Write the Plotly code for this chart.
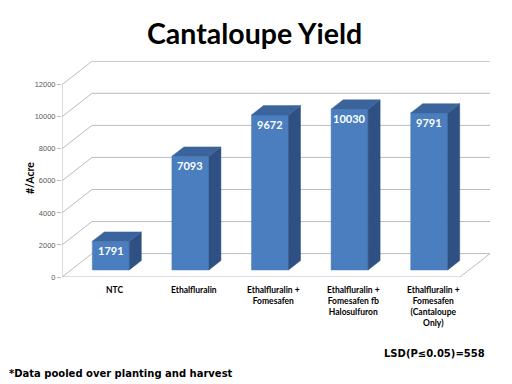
import plotly.graph_objects as go

categories = ["NTC", "Ethalfluralin", "Ethalfluralin +<br>Fomesafen",
              "Ethalfluralin +<br>Fomesafen fb<br>Halosulfuron",
              "Ethalfluralin +<br>Fomesafen<br>(Cantaloupe<br>Only)"]
yield_values = [1791, 7093, 9672, 10030, 9791]
y_ticks = [0, 2000, 4000, 6000, 8000, 10000, 12000]

title_text = "Cantaloupe Yield"
y_title = "#/Acre"
lsd_text = "LSD(P≤0.05)=558"
foot_text = "*Data pooled over planting and harvest"

# pseudo-3D geometry (in axis units)
DX = 0.377      # wall depth along x
DY = 1460       # wall depth along y
D0, D1 = 0.30, 0.70   # bar front / back depth fractions
HW = 0.2325     # half bar width
X_LEFT, X_RIGHT = -0.5, len(categories) - 0.5

FRONT = "#4a7ebe"
SIDE = "#2e5082"
TOP = "#3c649c"
GRID = "#bcbcbc"

W, H = 512, 384
ML, MR, MT, MB = 62, 20, 61, 107
PW, PH = W - ML - MR, H - MT - MB


def px_to_paper(px, py):
    return (px - ML) / PW, (H - MB - py) / PH


def poly(xs, ys, color):
    return go.Scatter(x=xs + [xs[0]], y=ys + [ys[0]], fill="toself", fillcolor=color,
                      mode="lines", line=dict(width=0.5, color=color),
                      hoverinfo="skip", showlegend=False)


fig = go.Figure()

# left-wall diagonals and back-wall gridlines
for v in y_ticks:
    fig.add_trace(go.Scatter(x=[X_LEFT, X_LEFT + DX, X_RIGHT + DX], y=[v, v + DY, v + DY],
                             mode="lines", line=dict(color=GRID, width=1),
                             hoverinfo="skip", showlegend=False))
# floor front and right edges
fig.add_trace(go.Scatter(x=[X_LEFT, X_RIGHT, X_RIGHT + DX], y=[0, 0, DY],
                         mode="lines", line=dict(color=GRID, width=1),
                         hoverinfo="skip", showlegend=False))
# front vertical axis line
fig.add_trace(go.Scatter(x=[X_LEFT, X_LEFT], y=[0, y_ticks[-1]],
                         mode="lines", line=dict(color=GRID, width=1),
                         hoverinfo="skip", showlegend=False))

# bars (front, side and top faces)
ddx = (D1 - D0) * DX
ddy = (D1 - D0) * DY
for i, v in enumerate(yield_values):
    xc = i + D0 * DX
    xl, xr = xc - HW, xc + HW
    yb, yt = D0 * DY, v + D0 * DY
    fig.add_trace(poly([xl, xr, xr, xl], [yb, yb, yt, yt], FRONT))
    fig.add_trace(poly([xr, xr, xr + ddx, xr + ddx], [yb, yt, yt + ddy, yb + ddy], SIDE))
    fig.add_trace(poly([xl, xr, xr + ddx, xl + ddx], [yt, yt, yt + ddy, yt + ddy], TOP))
    fig.add_annotation(x=xc, y=yt, text="<b>%d</b>" % v, showarrow=False,
                       yanchor="top", yshift=-1,
                       font=dict(family="Lato", size=11, color="white"))
    fig.add_annotation(x=xc + 0.05, y=0, yref="paper", text="<b>%s</b>" % categories[i],
                       showarrow=False, yanchor="top", yshift=-6, align="center",
                       font=dict(family="Lato", size=8.5, color="black"))

tx, ty = px_to_paper(254, 33)
fig.add_annotation(x=tx, y=ty, xref="paper", yref="paper", text="<b>%s</b>" % title_text,
                   showarrow=False, xanchor="center", yanchor="middle",
                   font=dict(family="Lato", size=28.5, color="black"))
lx, ly = px_to_paper(487, 353)
fig.add_annotation(x=lx, y=ly, xref="paper", yref="paper", text="<b>%s</b>" % lsd_text,
                   showarrow=False, xanchor="right", yanchor="middle",
                   font=dict(family="DejaVu Sans", size=10, color="black"))
fx, fy = px_to_paper(7, 373)
fig.add_annotation(x=fx, y=fy, xref="paper", yref="paper", text="<b>%s</b>" % foot_text,
                   showarrow=False, xanchor="left", yanchor="middle",
                   font=dict(family="DejaVu Sans", size=10, color="black"))
ax, ay = px_to_paper(30, 178)
fig.add_annotation(x=ax, y=ay, xref="paper", yref="paper", text="<b>%s</b>" % y_title,
                   textangle=-90, showarrow=False, xanchor="center", yanchor="middle",
                   font=dict(family="Lato", size=10.5, color="black"))

fig.update_layout(
    width=W, height=H,
    margin=dict(l=ML, r=MR, t=MT, b=MB),
    paper_bgcolor="white", plot_bgcolor="white",
    xaxis=dict(range=[X_LEFT, X_LEFT + PW / 79.6], visible=False, fixedrange=True),
    yaxis=dict(range=[0, 13475], tickvals=y_ticks, tickformat="d", ticks="outside",
               ticklen=4, tickcolor=GRID, showgrid=False, zeroline=False, showline=False,
               tickfont=dict(family="Liberation Sans", size=7.5, color="#595959"),
               fixedrange=True),
)

fig.write_html("out.html", post_script="document.body.style.margin='0';",
               config={"displayModeBar": False})
